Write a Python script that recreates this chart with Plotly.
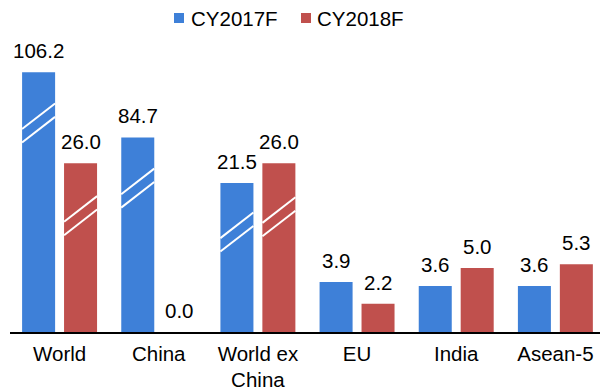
import plotly.graph_objects as go

# ---- data ----
categories = ["World", "China", "World ex<br>China", "EU", "India", "Asean-5"]
series_names = ["CY2017F", "CY2018F"]
cy2017 = [106.2, 84.7, 21.5, 3.9, 3.6, 3.6]
cy2018 = [26.0, 0.0, 26.0, 2.2, 5.0, 5.3]
# drawn bar lengths on the broken value axis
cy2017_drawn = [20.3, 15.2, 11.64, 3.9, 3.6, 3.6]
cy2018_drawn = [13.18, 0.0, 13.18, 2.2, 5.0, 5.3]
# where the axis-break marks sit on each bar (None = no break)
cy2017_break = [16.33, 11.24, 7.81, None, None, None]
cy2018_break = [9.09, None, 9.0, None, None, None]

BLUE = "#3E80D8"
RED = "#C0504D"
FONT = "Liberation Sans, Arial, sans-serif"
TXT = "#000000"
FS = 20.5

# layout geometry (pixels)
W, H = 600, 392
ML, MR, MT, MB = 10, 0, 12, 60
PW, PH = W - ML - MR, H - MT - MB
XR = [-0.5, 5.45]
YR = [0, 25]
BAR_OFF = 0.212   # centre offset of each bar from the category centre
BAR_HALF = 0.1665  # half bar width in category units

fig = go.Figure()
for name, drawn, real, col in [
    (series_names[0], cy2017_drawn, cy2017, BLUE),
    (series_names[1], cy2018_drawn, cy2018, RED),
]:
    fig.add_trace(go.Bar(
        x=categories, y=drawn, name=name, marker_color=col,
        marker_line_width=0, customdata=real,
        hovertemplate="%{x}: %{customdata:.1f}<extra>" + name + "</extra>",
        showlegend=False,
    ))

annotations = []
shapes = []
for s, (drawn, real, brk) in enumerate([
    (cy2017_drawn, cy2017, cy2017_break),
    (cy2018_drawn, cy2018, cy2018_break),
]):
    off = -BAR_OFF if s == 0 else BAR_OFF
    for i, (d, v, b) in enumerate(zip(drawn, real, brk)):
        xc = i + off
        annotations.append(dict(
            x=xc, y=d, xref="x", yref="y", text=f"{v:.1f}", showarrow=False,
            yanchor="bottom", xanchor="center", yshift=8,
            font=dict(size=FS, color=TXT, family=FONT),
        ))
        if b is not None:
            for dy in (0.525, -0.525):
                shapes.append(dict(
                    type="line", xref="x", yref="y",
                    x0=xc - BAR_HALF, x1=xc + BAR_HALF,
                    y0=b + dy - 1.0, y1=b + dy + 1.0,
                    line=dict(color="white", width=2),
                ))

# manual legend (square + label)
def px_x(p):
    return (p - ML) / PW

def px_y(p):
    return (H - MB - p) / PH

for name, col, sq_left, txt_left in [
    (series_names[0], BLUE, 174, 189),
    (series_names[1], RED, 301, 315),
]:
    shapes.append(dict(
        type="rect", xref="paper", yref="paper",
        x0=px_x(sq_left), x1=px_x(sq_left + 10), y0=px_y(23), y1=px_y(13),
        fillcolor=col, line=dict(width=0),
    ))
    annotations.append(dict(
        x=px_x(txt_left), y=px_y(18), xref="paper", yref="paper",
        text=name, showarrow=False, xanchor="left", yanchor="middle",
        font=dict(size=FS, color=TXT, family=FONT),
    ))

fig.update_layout(
    width=W, height=H,
    margin=dict(l=ML, r=MR, t=MT, b=MB, pad=0, autoexpand=False),
    paper_bgcolor="white", plot_bgcolor="white",
    barmode="group", bargap=0.154, bargroupgap=0.213,
    font=dict(family=FONT, size=FS, color=TXT),
    annotations=annotations, shapes=shapes,
    showlegend=False,
)
fig.update_xaxes(
    range=XR, showline=True, linecolor="black", linewidth=2,
    showgrid=False, zeroline=False, ticks="", fixedrange=True,
    ticklabelstandoff=2, automargin=False,
    tickfont=dict(size=FS, color=TXT, family=FONT),
)
fig.update_yaxes(range=YR, visible=False, fixedrange=True, automargin=False)

fig.write_html("out.html")
